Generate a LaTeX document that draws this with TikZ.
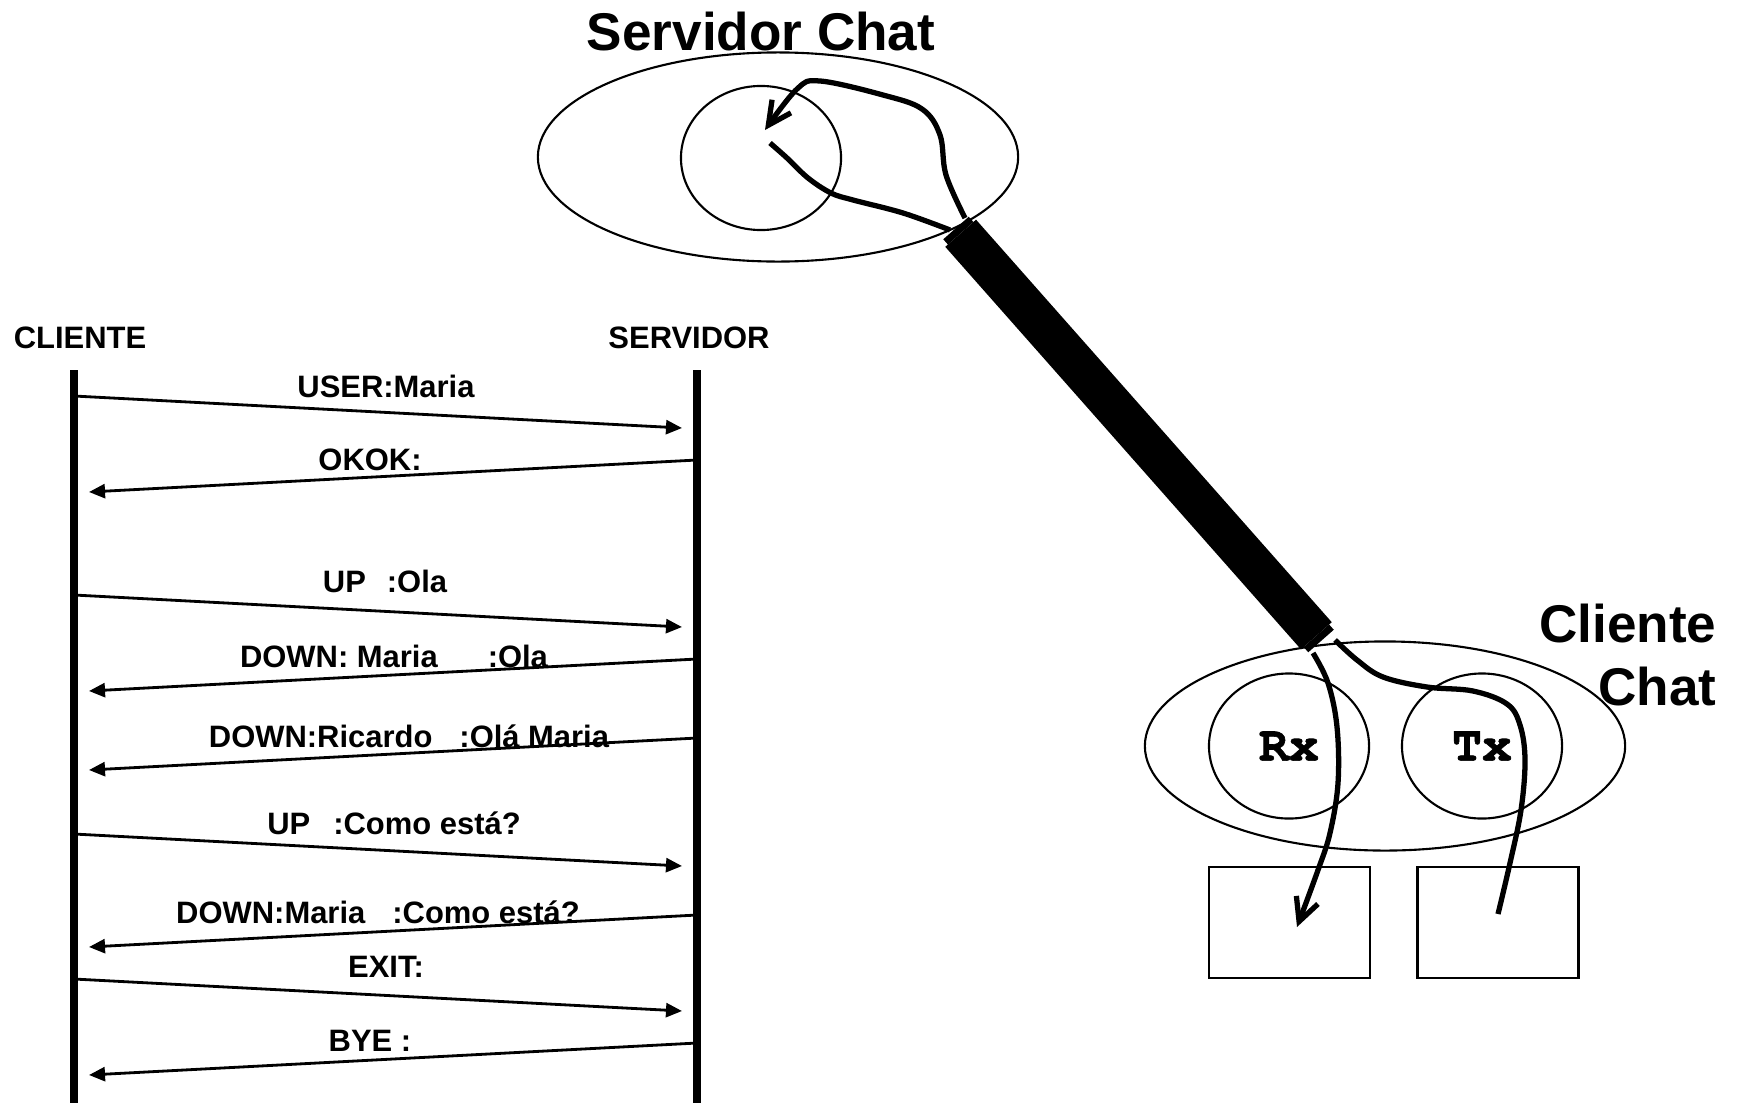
\documentclass[tikz,border=0pt]{standalone}
\usepackage{fontspec}
\setmainfont{Liberation Sans}
\newfontfamily\cursorfont{texgyrecursor}[Extension=.otf, UprightFont=*-regular, BoldFont=*-bold,
  BoldFeatures={FakeBold=1.2}]
\usetikzlibrary{arrows.meta,calc,shapes.geometric}
\begin{document}
\begin{tikzpicture}[x=0.01cm,y=-0.01cm,
  title/.style={font=\fontsize{15.1pt}{17pt}\selectfont\bfseries, inner sep=0pt},
  lbl/.style={font=\fontsize{8.8pt}{10pt}\selectfont\bfseries, inner sep=0pt, anchor=base},
  lifeline/.style={line width=2.3pt},
  msg/.style={line width=0.8pt, -{Triangle[length=0.16cm,width=0.14cm]}},
  host/.style={ellipse, draw, line width=0.6pt, minimum width=4.8cm, minimum height=2.09cm, inner sep=0pt},
  proc/.style={ellipse, draw, line width=0.6pt, minimum width=1.6cm, minimum height=1.45cm, inner sep=0pt,
    font=\cursorfont\bfseries\fontsize{14.2pt}{16pt}\selectfont},
  buffer/.style={draw, line width=0.75pt, minimum width=1.61cm, minimum height=1.11cm, inner sep=0pt},
  wire/.style={line width=1.5pt},
  barb/.style={-{Straight Barb[length=0.23cm,width=0.23cm]}}
]
\useasboundingbox (0,0) rectangle (1743,1103);
\fill[white] (0,0) rectangle (1743,1103);

% ---------- chat server ----------
\node[title, anchor=base] (srvtitle) at (761,50) {Servidor Chat};
\node[host] (srv) at (778,157) {};
\node[proc, minimum height=1.44cm] (srvproc) at (761,158) {};

% ---------- chat client ----------
\node[title, anchor=base east] (clititle1) at (1717,642) {Cliente};
\node[title, anchor=base east] (clititle2) at (1717,705) {Chat};
\node[host] (cli) at (1385,746) {};
\node[proc] (rx) at (1289,746) {Rx};
\node[proc] (tx) at (1482,746) {Tx};
\node[buffer] (rxbuf) at (1289.5,922.5) {};
\node[buffer] (txbuf) at (1498,922.5) {};

% ---------- cable between client and server ----------
\coordinate (T) at (956,228);
\coordinate (B) at (1321,641);
\coordinate (Ti) at ($(T)!0.07cm!(B)$);
\coordinate (Bi) at ($(B)!0.07cm!(T)$);
\draw[line width=0.41cm] (Ti) -- (Bi);
\draw[line width=0.34cm] (T) -- (Ti);
\draw[line width=0.34cm] (B) -- (Bi);

% wires leaving the cable on the server side
\draw[wire] plot[smooth, tension=0.6] coordinates
  {(950,230) (903,213) (853,200) (831,193) (808,178) (787,158) (770,143)};
\draw[wire, barb] plot[smooth, tension=0.6] coordinates
  {(965,218) (946,175) (940,135) (922,109) (883,95) (820,81) (797,89) (765,130)};

% wires leaving the cable on the client side
\draw[wire, barb] plot[smooth, tension=0.6] coordinates
  {(1313,653) (1328,683) (1337,727) (1338,783) (1330,833) (1318,870) (1297,927)};
\draw[wire] plot[smooth, tension=0.6] coordinates
  {(1335,640) (1357,660) (1383,677) (1427,687) (1473,691) (1507,704) (1520,725)
   (1525,760) (1521,810) (1510,863) (1498,914)};

% ---------- message sequence ----------
\node[lbl] (hcli) at (80,348) {CLIENTE};
\node[lbl] (hsrv) at (689,348) {SERVIDOR};
\coordinate (cTop) at (74,370);
\coordinate (cBot) at (74,1103);
\coordinate (sTop) at (697,370);
\coordinate (sBot) at (697,1103);
\draw[lifeline] (cTop) -- (cBot);
\draw[lifeline] (sTop) -- (sBot);

% client to server
\foreach \i/\y in {1/396, 3/595, 6/834, 8/979}{
  \coordinate (from\i) at (74,\y);
  \coordinate (to\i) at (682,\y+32);
  \draw[msg] (from\i) -- (to\i);
}
% server to client
\foreach \i/\y in {2/460, 4/659, 5/738, 7/915, 9/1043}{
  \coordinate (from\i) at (697,\y);
  \coordinate (to\i) at (89,\y+32);
  \draw[msg] (from\i) -- (to\i);
}

\node[lbl] (l1) at (386,397) {USER:Maria};
\node[lbl] (l2) at (370,470) {OKOK:};
\node[lbl] (l3) at (385,592) {UP\hspace{0.21cm}:Ola};
\node[lbl] (l4) at (394,667) {DOWN: Maria\hspace{0.50cm}:Ola};
\node[lbl] (l5) at (409,747) {DOWN:Ricardo\hspace{0.27cm}:Olá Maria};
\node[lbl] (l6) at (394,834) {UP\hspace{0.23cm}:Como está?};
\node[lbl] (l7) at (378,923) {DOWN:Maria\hspace{0.27cm}:Como está?};
\node[lbl] (l8) at (386,977) {EXIT:};
\node[lbl] (l9) at (370,1051) {BYE :};
\end{tikzpicture}
\end{document}
